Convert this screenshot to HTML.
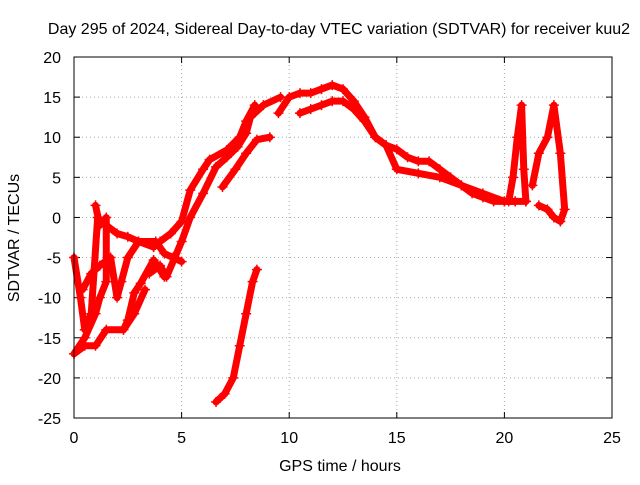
<!DOCTYPE html>
<html><head><meta charset="utf-8"><style>
body{margin:0;background:#fff}
svg text{font-family:"Liberation Sans",sans-serif;font-size:16px;fill:#000}
</style></head><body>
<svg id="chart" width="640" height="480" viewBox="0 0 640 480" xmlns="http://www.w3.org/2000/svg">
<text x="339" y="34" text-anchor="middle">Day 295 of 2024, Sidereal Day-to-day VTEC variation (SDTVAR) for receiver kuu2</text>
<text x="340" y="471" text-anchor="middle">GPS time / hours</text>
<text x="0" y="0" text-anchor="middle" transform="translate(19,238) rotate(-90)">SDTVAR / TECUs</text>
<g id="grid"></g>
<g id="axes"></g>
<g id="marks"></g>
<rect x="74" y="57" width="538" height="361" fill="none" stroke="#000" stroke-width="1"/>
</svg>
<script>
const xTicks=[0,5,10,15,20,25];
const yTicks=[-25,-20,-15,-10,-5,0,5,10,15,20];
const trackMainHours=[0,0.3,0.5,0.8,1.1,1.5,2,2.5,3,3.7,4,4.5,5,5.4,6,6.3,7.1,7.7,8,8.4];
const trackMainValues=[-5,-10,-14,-12,0,-1,-2,-2.4,-3,-3.7,-3,-2,-0.5,3.4,6,7.2,8.4,10,12,14];
const trackB_Hours=[3.5,4,4.3,5,5.4,6,6.6,7.1,7.6,8,8.2,8.8,9.6];
const trackB_Values=[-7,-6,-7.4,-3,0,3,6.3,7.5,8.8,10.5,12.5,14,15];
const trackE_Hours=[6.9,7.5,8,8.5,9.1];
const trackE_Values=[3.8,6,8,9.7,10];
const trackC_Hours=[9.5,10,10.5,11,11.5,12,12.5,13,13.5,14,14.5,15,15.5,16,16.5,17,17.5,18,18.5,19,19.5,20,20.5,21];
const trackC_Values=[13,15,15.5,15.5,16,16.5,16,14.5,12.5,10,9,8.5,7.5,7,7,6,5,4,3,2.5,2,2,2,2];
const trackD_Hours=[10.5,11,11.5,12,12.5,13,13.5,14,14.5,15,16,17,18,19,20,20.5];
const trackD_Values=[13,13.5,14,14.5,14.5,13.5,12,10,9,6,5.5,5,4,3,2,2];
const spikeA_Hours=[20.2,20.4,20.6,20.8,20.9,21];
const spikeA_Values=[2,5,10,14,6,2];
const spikeB_Hours=[21.3,21.6,22,22.3,22.6,22.8,22.6,22.3,22,21.6];
const spikeB_Values=[4,8,10,14,8,1,-0.5,0,1,1.5];
const lineLow_Hours=[6.6,7,7.4,7.7,8,8.3,8.5];
const lineLow_Values=[-23,-22,-20,-16,-12,-8,-6.5];
const clutterA_Hours=[1,1.2,1.5,1.5,1.2,1,0.5,0,0.5,1,1.5,2.3,2.5,2.8,3.1,3.7,4.2];
const clutterA_Values=[1.5,-1,0,-8,-10,-12,-15,-17,-16,-16,-14,-14,-12.8,-9.4,-8.2,-5.3,-7.4];
const clutterB_Hours=[0.4,0.8,1.2,1.7,2,2.2,2.5,3,3.8,4.2,4.6,5];
const clutterB_Values=[-9,-7,-6,-5,-10,-8,-5,-3,-3,-4.5,-5,-5.5];
const clutterC_Hours=[2.3,2.8,3.3];
const clutterC_Values=[-14,-12,-9];
const series=[[trackMainHours,trackMainValues],[trackB_Hours,trackB_Values],[trackE_Hours,trackE_Values],[trackC_Hours,trackC_Values],[trackD_Hours,trackD_Values],[spikeA_Hours,spikeA_Values],[spikeB_Hours,spikeB_Values],[lineLow_Hours,lineLow_Values],[clutterA_Hours,clutterA_Values],[clutterB_Hours,clutterB_Values],[clutterC_Hours,clutterC_Values]];
const X=v=>74+v*(538/25), Y=v=>418-(v+25)*(361/45);
const NS="http://www.w3.org/2000/svg";
const grid=document.getElementById('grid'),axes=document.getElementById('axes'),marks=document.getElementById('marks');
function mk(t,a,p){const e=document.createElementNS(NS,t);for(const k in a)e.setAttribute(k,a[k]);p.appendChild(e);return e;}
xTicks.forEach(t=>{
  const g=mk('line',{x1:X(t),x2:X(t),y1:57,y2:418,stroke:'#aaa','stroke-dasharray':'1,3'},grid);
  
  
  const l=mk('text',{x:X(t),y:443,'text-anchor':'middle'},axes);l.textContent=t;
  
  
  mk('line',{x1:X(t),x2:X(t),y1:418,y2:412,stroke:'#000'},axes);
  mk('line',{x1:X(t),x2:X(t),y1:57,y2:63,stroke:'#000'},axes);
});
yTicks.forEach(t=>{
  const g=mk('line',{x1:74,x2:612,y1:Y(t),y2:Y(t),stroke:'#aaa','stroke-dasharray':'1,3'},grid);
  
  
  const l=mk('text',{x:61,y:Y(t)+6,'text-anchor':'end'},axes);l.textContent=t;
  
  
  mk('line',{x1:74,x2:80,y1:Y(t),y2:Y(t),stroke:'#000'},axes);
  mk('line',{x1:612,x2:606,y1:Y(t),y2:Y(t),stroke:'#000'},axes);
});
series.forEach(([xs,ys],i)=>{
  const pts=xs.map((x,j)=>X(x)+','+Y(ys[j])).join(' ');
  const pl=mk('polyline',{points:pts,fill:'none',stroke:'#f00','stroke-width':7,'stroke-linejoin':'round','stroke-linecap':'round'},marks);
  
  
  xs.forEach((x,j)=>{
    const cx=X(x),cy=Y(ys[j]);
    const p=mk('path',{d:`M${cx-5},${cy}h10M${cx},${cy-5}v10`,stroke:'#f00','stroke-width':1.5},marks);
    
    
  });
});
</script>
</body></html>
